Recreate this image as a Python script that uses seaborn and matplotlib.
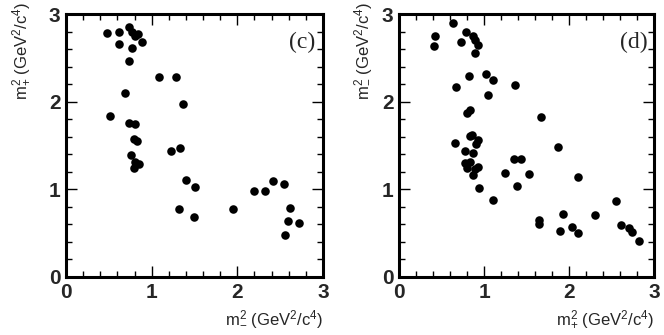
import matplotlib
matplotlib.use("Agg")
import matplotlib.pyplot as plt
import seaborn as sns
import pandas as pd
from matplotlib.ticker import MultipleLocator

sns.set_theme(style="white")
plt.rcParams['font.family'] = ['Liberation Sans', 'DejaVu Sans']
plt.rcParams['mathtext.fontset'] = 'custom'
plt.rcParams['mathtext.rm'] = 'Liberation Sans'
plt.rcParams['mathtext.it'] = 'Liberation Sans'

# panel (c): m-^2 vs m+^2
c_x = [0.48, 0.62, 0.74, 0.77, 0.80, 0.84, 0.62, 0.89, 0.77, 0.74,
       1.08, 1.28, 0.69, 1.37, 0.51, 0.74, 0.81, 0.79, 0.83, 1.23,
       1.33, 0.76, 0.81, 0.85, 0.79, 1.40, 1.50, 1.32, 1.49, 1.95,
       2.20, 2.32, 2.42, 2.54, 2.61, 2.59, 2.72, 2.56]
c_y = [2.78, 2.80, 2.85, 2.79, 2.75, 2.77, 2.66, 2.68, 2.61, 2.46,
       2.28, 2.28, 2.10, 1.97, 1.84, 1.76, 1.74, 1.57, 1.55, 1.44,
       1.47, 1.39, 1.31, 1.29, 1.24, 1.11, 1.03, 0.78, 0.69, 0.78,
       0.98, 0.98, 1.10, 1.06, 0.79, 0.64, 0.62, 0.48]

# panel (d): m+^2 vs m-^2
d_x = [0.64, 0.42, 0.41, 0.79, 0.73, 0.87, 0.89, 0.93, 0.89, 0.82,
       1.02, 1.11, 0.67, 1.37, 1.05, 0.84, 0.80, 1.67, 0.83, 0.86,
       0.93, 0.91, 0.66, 1.87, 0.78, 0.87, 1.35, 1.44, 0.78, 0.84,
       0.89, 0.80, 0.87, 0.93, 0.94, 1.25, 1.53, 2.10, 1.39, 1.11,
       1.65, 1.65, 1.93, 1.89, 2.04, 2.10, 2.31, 2.55, 2.61, 2.71,
       2.74, 2.82]
d_y = [2.90, 2.75, 2.63, 2.80, 2.68, 2.75, 2.70, 2.65, 2.55, 2.29,
       2.32, 2.25, 2.17, 2.19, 2.08, 1.90, 1.87, 1.82, 1.61, 1.62,
       1.56, 1.52, 1.53, 1.48, 1.44, 1.41, 1.35, 1.35, 1.30, 1.31,
       1.23, 1.24, 1.16, 1.26, 1.01, 1.19, 1.18, 1.14, 1.04, 0.88,
       0.65, 0.60, 0.72, 0.52, 0.57, 0.50, 0.71, 0.87, 0.59, 0.56,
       0.51, 0.41]

tick_labels = ["0", "1", "2", "3"]
panel_tags = ["(c)", "(d)"]
x_titles = [r"m$^2_{-}$ (GeV$^2$/c$^4$)", r"m$^2_{+}$ (GeV$^2$/c$^4$)"]
y_titles = [r"m$^2_{+}$ (GeV$^2$/c$^4$)", r"m$^2_{-}$ (GeV$^2$/c$^4$)"]
ylabel_x = [-0.128, -0.10]

fig = plt.figure(figsize=(6.64, 3.35), dpi=100)
W, H = 664, 335
axes = [fig.add_axes([66 / W, (H - 277) / H, 257 / W, 263 / H]),
        fig.add_axes([399 / W, (H - 277) / H, 255 / W, 263 / H])]

data = [pd.DataFrame({"x": c_x, "y": c_y}), pd.DataFrame({"x": d_x, "y": d_y})]

for i, ax in enumerate(axes):
    sns.scatterplot(data=data[i], x="x", y="y", ax=ax, color="black",
                    s=38, edgecolor="black", linewidth=0)
    ax.set_xlim(0, 3)
    ax.set_ylim(0, 3)
    ax.set_xticks([0, 1, 2, 3])
    ax.set_yticks([0, 1, 2, 3])
    ax.set_xticklabels(tick_labels, fontsize=15, fontweight="bold")
    ax.set_yticklabels(tick_labels, fontsize=15, fontweight="bold")
    ax.xaxis.set_minor_locator(MultipleLocator(0.2))
    ax.yaxis.set_minor_locator(MultipleLocator(0.2))
    ax.tick_params(which="both", direction="in", top=True, right=True,
                   bottom=True, left=True, color="black")
    ax.tick_params(which="major", length=8, width=1.0, pad=4)
    ax.tick_params(which="minor", length=4, width=1.0)
    for sp in ax.spines.values():
        sp.set_linewidth(2.2)
        sp.set_color("black")
    ax.set_xlabel(x_titles[i], fontsize=12, loc="right", labelpad=5)
    ax.set_ylabel(y_titles[i], fontsize=12, loc="top")
    ax.yaxis.set_label_coords(ylabel_x[i], 1.046)
    ax.text(0.92, 0.89, panel_tags[i], transform=ax.transAxes,
            fontsize=17, family="Liberation Serif", ha="center", va="center")

fig.savefig("out.png", dpi=100)
